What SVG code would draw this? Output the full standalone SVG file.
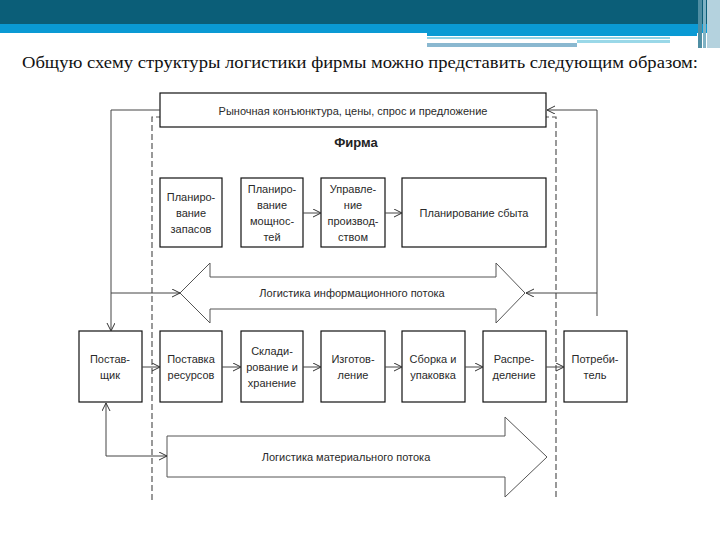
<svg xmlns="http://www.w3.org/2000/svg" width="720" height="540" viewBox="0 0 720 540">
<style>
.box{fill:#fff;stroke:#111;stroke-width:1.2}
.t{font-family:"Liberation Sans",Arial,sans-serif;font-size:11px;fill:#2a2a2a;text-anchor:middle}
.c{fill:none;stroke:#444;stroke-width:1}
.big{fill:#fff;stroke:#555;stroke-width:1}
.dash{fill:none;stroke:#555;stroke-width:1.2;stroke-dasharray:6,3}
</style>
<defs>
<marker id="ar" markerWidth="9" markerHeight="9" refX="8" refY="4" orient="auto" markerUnits="userSpaceOnUse">
<path d="M0,0 L8,4 L0,8" fill="none" stroke="#333" stroke-width="1"/>
</marker>
</defs>
<rect width="720" height="540" fill="#fff"/>
<g id="header">
<rect x="0" y="0" width="720" height="24" fill="#0b5e78"/>
<rect x="0" y="24" width="720" height="9" fill="#0a9ad4"/>
<rect x="427" y="33" width="270" height="3" fill="#0a9ad4"/>
<rect x="427" y="37" width="243" height="2" fill="#8fd3e6"/>
<rect x="577" y="40" width="93" height="3" fill="#9ad8e8"/>
<rect x="427" y="43" width="150" height="4" fill="#8ab8d0"/>
<rect x="698" y="0" width="4" height="48" fill="#4f8ea3"/>
<rect x="703" y="0" width="3" height="48" fill="#7fb2c4"/>
<rect x="707" y="0" width="13" height="48" fill="#b4d2de"/>
<text x="22" y="68" font-family="'Liberation Serif','Times New Roman',serif" font-size="17" fill="#111" textLength="676" lengthAdjust="spacingAndGlyphs">Общую схему структуры логистики фирмы можно представить следующим образом:</text>
</g>
<g id="firm-frame">
<path class="dash" d="M152,500 L152,117 L556,117 L556,500"/>
</g>
<g id="market">
<rect class="box" x="160" y="93" width="386" height="34"/>
<text class="t" x="353" y="115">Рыночная конъюнктура, цены, спрос и предложение</text>
</g>
<text id="firm-label" x="356" y="147" font-family="'Liberation Sans',Arial,sans-serif" font-size="13" font-weight="bold" fill="#222" text-anchor="middle">Фирма</text>
<g id="plan-stock">
<rect class="box" x="160" y="178" width="62" height="69"/>
<text class="t" x="191" y="201">Планиро-</text><text class="t" x="191" y="217">вание</text><text class="t" x="191" y="233">запасов</text>
</g>
<g id="plan-capacity">
<rect class="box" x="241" y="178" width="62" height="69"/>
<text class="t" x="272" y="193">Планиро-</text><text class="t" x="272" y="209">вание</text><text class="t" x="272" y="225">мощнос-</text><text class="t" x="272" y="241">тей</text>
</g>
<g id="prod-mgmt">
<rect class="box" x="321" y="178" width="64" height="69"/>
<text class="t" x="353" y="193">Управле-</text><text class="t" x="353" y="209">ние</text><text class="t" x="353" y="225">производ-</text><text class="t" x="353" y="241">ством</text>
</g>
<g id="plan-sales">
<rect class="box" x="402" y="178" width="144" height="69"/>
<text class="t" x="474" y="217">Планирование сбыта</text>
</g>
<g id="info-flow">
<polygon class="big" points="180,293 210,263 210,277 496,277 496,263 525,293 496,323 496,309 210,309 210,323"/>
<text class="t" x="352" y="297">Логистика информационного потока</text>
</g>
<g id="supplier">
<rect class="box" x="79" y="331" width="63" height="71"/>
<text class="t" x="110" y="363">Постав-</text><text class="t" x="110" y="379">щик</text>
</g>
<g id="supply">
<rect class="box" x="160" y="331" width="62" height="71"/>
<text class="t" x="191" y="363">Поставка</text><text class="t" x="191" y="379">ресурсов</text>
</g>
<g id="storage">
<rect class="box" x="241" y="331" width="62" height="71"/>
<text class="t" x="272" y="355">Склади-</text><text class="t" x="272" y="371">рование и</text><text class="t" x="272" y="387">хранение</text>
</g>
<g id="manufacturing">
<rect class="box" x="321" y="331" width="64" height="71"/>
<text class="t" x="353" y="363">Изготов-</text><text class="t" x="353" y="379">ление</text>
</g>
<g id="assembly">
<rect class="box" x="402" y="331" width="63" height="71"/>
<text class="t" x="433" y="363">Сборка и</text><text class="t" x="433" y="379">упаковка</text>
</g>
<g id="distribution">
<rect class="box" x="483" y="331" width="63" height="71"/>
<text class="t" x="514" y="363">Распре-</text><text class="t" x="514" y="379">деление</text>
</g>
<g id="consumer">
<rect class="box" x="564" y="331" width="63" height="71"/>
<text class="t" x="595" y="363">Потреби-</text><text class="t" x="595" y="379">тель</text>
</g>
<g id="material-flow">
<polygon class="big" points="167,436 505,436 505,417 547,457 505,497 505,477 167,477"/>
<text class="t" x="346" y="461">Логистика материального потока</text>
</g>
<g id="connectors">
<path class="c" d="M303,213 H321" marker-end="url(#ar)"/>
<path class="c" d="M385,213 H402" marker-end="url(#ar)"/>
<path class="c" d="M142,367 H160" marker-end="url(#ar)"/>
<path class="c" d="M222,367 H241" marker-end="url(#ar)"/>
<path class="c" d="M303,367 H321" marker-end="url(#ar)"/>
<path class="c" d="M385,367 H402" marker-end="url(#ar)"/>
<path class="c" d="M465,367 H483" marker-end="url(#ar)"/>
<path class="c" d="M546,367 H564" marker-end="url(#ar)"/>
<path class="c" d="M160,110 H111 V331" marker-end="url(#ar)"/>
<path class="c" d="M111,293 H180" marker-end="url(#ar)"/>
<path class="c" d="M597,316 V110 H547" marker-end="url(#ar)"/>
<path class="c" d="M597,293 H526" marker-end="url(#ar)"/>
<path class="c" d="M106,456 V403" marker-end="url(#ar)"/>
<path class="c" d="M106,456 H167" marker-end="url(#ar)"/>
</g>
</svg>
